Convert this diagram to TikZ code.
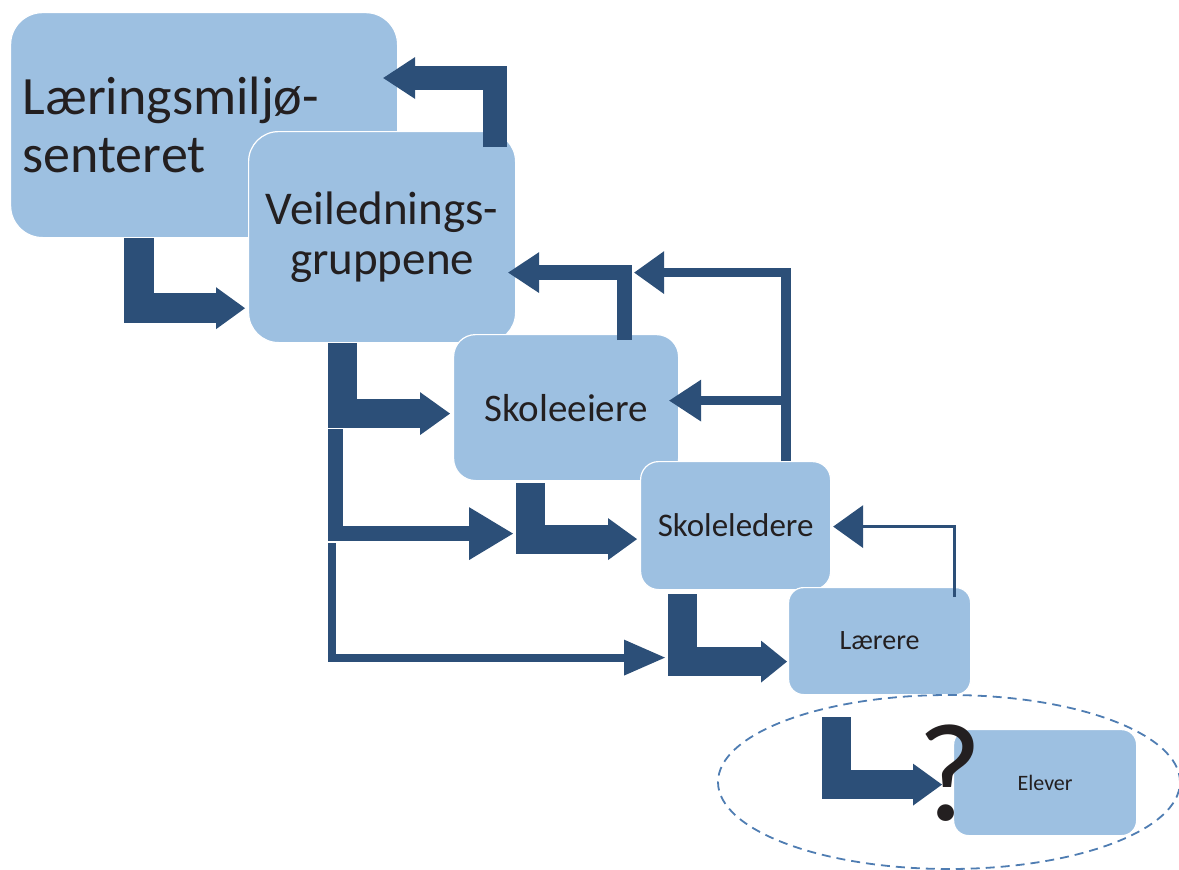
\documentclass[tikz,border=0pt]{standalone}
\usepackage{fontspec}
\setmainfont{Carlito}
\usetikzlibrary{arrows.meta,shapes.geometric}
\definecolor{boxblue}{RGB}{157,192,225}
\definecolor{arrowblue}{RGB}{44,79,120}
\definecolor{ringblue}{RGB}{79,125,178}
\definecolor{txt}{RGB}{35,31,32}

\begin{document}
\begin{tikzpicture}[x=1pt, y=-1pt,
	box/.style = {draw=white, line width=1.2pt, fill=boxblue, anchor=north west, text=txt, inner sep=0pt, align=center},
	flow/.style n args = {3}{draw=arrowblue, line width=#1, line join=miter, -{Triangle[width=#2, length=#3, line width=0pt]}}]

	\useasboundingbox (0,0) rectangle (1179,870);

	% the boxes, each one over the one before
	\node[box, minimum width=387pt, minimum height=225pt, rounded corners=32pt, text width=363pt, inner sep=12pt, align=left, font=\fontsize{54}{58}\selectfont] (lms) at (10,12) {Læringsmiljø-\\senteret};
	\node[box, minimum width=267pt, minimum height=211pt, rounded corners=30pt, font=\fontsize{47}{50}\selectfont] (vg) at (248,131) {Veilednings-\\gruppene};
	\node[box, minimum width=225pt, minimum height=146pt, rounded corners=22pt, font=\fontsize{39}{44}\selectfont] (se) at (453,334) {Skoleeiere};
	\node[box, minimum width=190pt, minimum height=128pt, rounded corners=18pt, font=\fontsize{33}{38}\selectfont] (sl) at (640,461) {Skoleledere};
	\node[box, minimum width=182pt, minimum height=107pt, rounded corners=15pt, font=\fontsize{28}{32}\selectfont] (lr) at (788,587) {Lærere};
	\node[box, minimum width=183pt, minimum height=106pt, rounded corners=15pt, font=\fontsize{22}{26}\selectfont] (el) at (953,729) {Elever};

	% downwards
	\draw[flow={30pt}{42pt}{29pt}] ([xshift=128.5pt]lms.south west) |- ([xshift=-3pt, yshift=35pt]vg.south west);
	\draw[flow={29pt}{43pt}{30pt}] ([xshift=94.5pt]vg.south west) |- ([xshift=-3pt, yshift=-6pt]se.west);
	\draw[flow={14.5pt}{53pt}{44pt}] ([xshift=87.5pt, yshift=-86pt]vg.south west) |- ([xshift=-127pt, yshift=-8pt]sl.west);
	\draw[flow={8pt}{36pt}{41pt}] ([xshift=83.5pt, yshift=-200pt]vg.south west) |- ([xshift=-123pt, yshift=-16.5pt]lr.west);
	\draw[flow={29pt}{42pt}{29pt}] ([xshift=77.5pt, yshift=-2pt]se.south west) |- ([xshift=-3pt, yshift=-13.5pt]sl.west);
	\draw[flow={29pt}{42pt}{26pt}] ([xshift=42.5pt, yshift=-4pt]sl.south west) |- ([xshift=-1pt, yshift=-20.5pt]lr.west);
	\draw[flow={29pt}{42pt}{29pt}] ([xshift=48.5pt, yshift=-22pt]lr.south west) |- ([xshift=-11pt, yshift=-2pt]el.west);

	% upwards
	\draw[flow={24pt}{42pt}{32pt}] ([xshift=-21pt, yshift=-16pt]vg.north east) |- ([xshift=-15pt, yshift=-66pt]lms.north east);
	\draw[flow={15pt}{41pt}{31pt}] ([xshift=-55pt, yshift=-6pt]se.north east) |- ([xshift=-8pt, yshift=-35.5pt]vg.east);
	\draw[flow={9.5pt}{43pt}{30pt}] ([xshift=146pt]sl.north west) |- ([xshift=118pt, yshift=-35.5pt]vg.east);
	\draw[flow={9.5pt}{42pt}{32pt}] ([xshift=146pt]sl.north west) |- ([xshift=-10pt, yshift=7pt]se.east);
	\draw[flow={3pt}{43pt}{30pt}] ([xshift=-16.5pt, yshift=-10pt]lr.north east) |- ([xshift=2pt, yshift=-1pt]sl.east);

	\node[ellipse, draw=ringblue, line width=1.8pt, dash pattern=on 9pt off 6pt, minimum width=462pt, minimum height=174pt, inner sep=0pt] (grp) at (949,782) {};
	\node[text=txt, font=\fontsize{140}{140}\selectfont, anchor=base, inner sep=0pt] (qm) at (950,820) {?};

\end{tikzpicture}
\end{document}
